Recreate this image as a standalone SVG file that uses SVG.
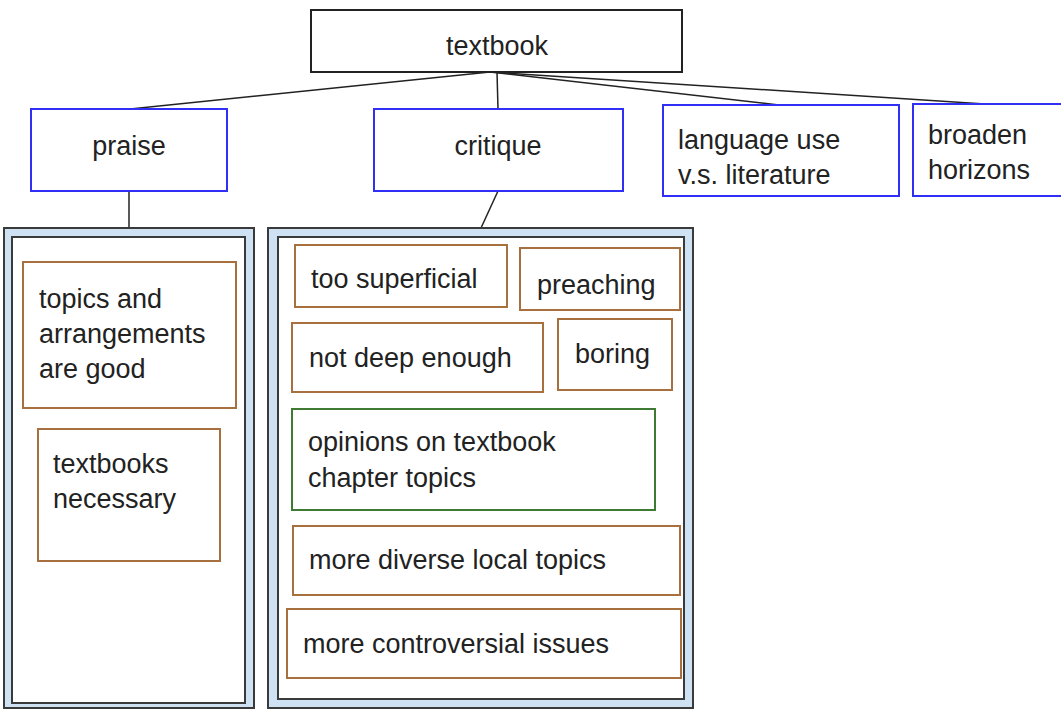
<svg xmlns="http://www.w3.org/2000/svg" width="1061" height="710" viewBox="0 0 1061 710">
<style>
  text { font-family: "Liberation Sans", Arial, sans-serif; font-size: 27px; fill: #222; }
  .top { fill: #fff; stroke: #222; stroke-width: 2; }
  .blue { fill: #fff; stroke: #2f2ff5; stroke-width: 2; }
  .brown { fill: #fff; stroke: #a8703f; stroke-width: 2; }
  .green { fill: #fff; stroke: #3f7a34; stroke-width: 2; }
  .outer { fill: #cfe2f3; stroke: #3a3a3a; stroke-width: 2; }
  .inner { fill: #fff; stroke: #3a3a3a; stroke-width: 2; }
  .conn line { stroke: #222; stroke-width: 1.5; }
  .mid { text-anchor: middle; }
</style>
<rect width="1061" height="710" fill="#fff"/>
<g class="conn" id="connectors">
  <line x1="490" y1="72" x2="130" y2="109"/>
  <line x1="497" y1="72" x2="498" y2="109"/>
  <line x1="490" y1="72" x2="779" y2="105"/>
  <line x1="490" y1="72" x2="985" y2="104"/>
  <line x1="129" y1="191" x2="129" y2="228"/>
  <line x1="498" y1="191" x2="481" y2="228"/>
</g>
<g id="panel-praise">
  <rect class="outer" x="4" y="228" width="250" height="480"/>
  <rect class="inner" x="12" y="237" width="233" height="466"/>
</g>
<g id="panel-critique">
  <rect class="outer" x="268" y="228" width="425" height="480"/>
  <rect class="inner" x="278" y="237" width="406" height="462"/>
</g>
<g id="textbook">
  <rect class="top" x="311" y="10" width="371" height="62"/>
  <text class="mid" x="497" y="55">textbook</text>
</g>
<g id="praise">
  <rect class="blue" x="31" y="109" width="196" height="82"/>
  <text class="mid" x="129" y="155">praise</text>
</g>
<g id="critique">
  <rect class="blue" x="374" y="109" width="249" height="82"/>
  <text class="mid" x="498" y="155">critique</text>
</g>
<g id="language">
  <rect class="blue" x="663" y="105" width="236" height="91"/>
  <text x="678" y="149">language use</text>
  <text x="678" y="184">v.s. literature</text>
</g>
<g id="broaden">
  <rect class="blue" x="913" y="104" width="152" height="92"/>
  <text x="928" y="144">broaden</text>
  <text x="928" y="179">horizons</text>
</g>
<g id="topics-arrangements">
  <rect class="brown" x="23" y="262" width="213" height="146"/>
  <text x="39" y="308">topics and</text>
  <text x="39" y="343">arrangements</text>
  <text x="39" y="378">are good</text>
</g>
<g id="textbooks-necessary">
  <rect class="brown" x="38" y="429" width="182" height="132"/>
  <text x="53" y="473">textbooks</text>
  <text x="53" y="508">necessary</text>
</g>
<g id="too-superficial">
  <rect class="brown" x="295" y="245" width="212" height="62"/>
  <text x="311" y="288">too superficial</text>
</g>
<g id="preaching">
  <rect class="brown" x="520" y="248" width="160" height="62"/>
  <text x="537" y="294">preaching</text>
</g>
<g id="not-deep-enough">
  <rect class="brown" x="292" y="323" width="251" height="69"/>
  <text x="309" y="367">not deep enough</text>
</g>
<g id="boring">
  <rect class="brown" x="558" y="319" width="114" height="71"/>
  <text x="575" y="363">boring</text>
</g>
<g id="opinions">
  <rect class="green" x="292" y="409" width="363" height="101"/>
  <text x="308" y="451">opinions on textbook</text>
  <text x="308" y="487">chapter topics</text>
</g>
<g id="diverse-local">
  <rect class="brown" x="293" y="526" width="387" height="69"/>
  <text x="309" y="569">more diverse local topics</text>
</g>
<g id="controversial">
  <rect class="brown" x="287" y="609" width="394" height="69"/>
  <text x="303" y="653">more controversial issues</text>
</g>
</svg>
